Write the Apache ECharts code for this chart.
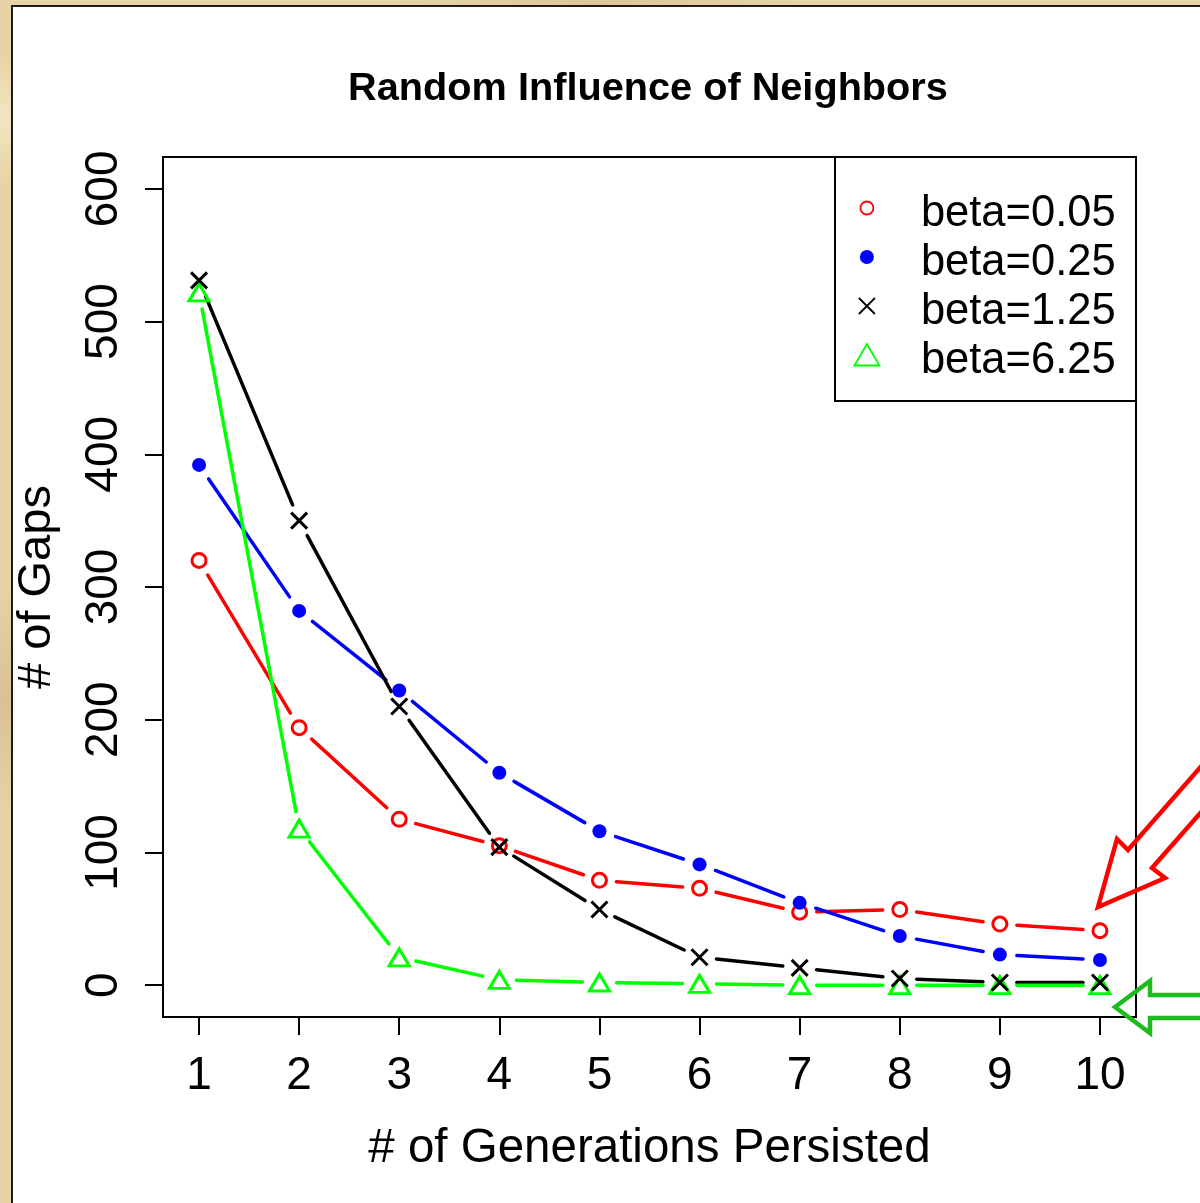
<!DOCTYPE html>
<html>
<head>
<meta charset="utf-8">
<title>Random Influence of Neighbors</title>
<script src="https://cdn.jsdelivr.net/npm/echarts@6/dist/echarts.min.js"></script>
<style>
  html, body { margin: 0; padding: 0; width: 1200px; height: 1203px; overflow: hidden; }
  body {
    background:
      radial-gradient(circle at 3px 120px, #f3e6c4 0, rgba(243,230,196,0) 60px),
      radial-gradient(circle at 600px 2px, #dcc698 0, rgba(220,198,152,0) 200px),
      radial-gradient(circle at 5px 700px, #d9c292 0, rgba(217,194,146,0) 120px),
      #e7d4a6;
    position: relative;
  }
  #panel {
    position: absolute; left: 11px; top: 5px; width: 1200px; height: 1210px;
    background: #ffffff; border-left: 2px solid #1c1c1c; border-top: 2px solid #1c1c1c;
  }
  #chart { position: absolute; left: 0; top: 0; width: 1200px; height: 1203px; }
</style>
</head>
<body>
<div id="panel"></div>
<div id="chart"></div>
<script>
// Number of gaps persisting for a given number of generations, per beta value
const generations = [1, 2, 3, 4, 5, 6, 7, 8, 9, 10];
const gapsBeta005 = [320, 194, 125, 105, 79, 73, 55, 57, 46, 41];
const gapsBeta025 = [392, 282, 222, 160, 116, 91, 62, 37, 23, 19];
const gapsBeta125 = [531, 350, 210, 104, 57, 21, 13, 5, 2, 2];
const gapsBeta625 = [522, 118, 21, 4, 2, 1, 0, 0, 0, 0];
const yTicks = [0, 100, 200, 300, 400, 500, 600];
const seriesNames = ['beta=0.05', 'beta=0.25', 'beta=1.25', 'beta=6.25'];

const FONT = '"Liberation Sans", Arial, Helvetica, sans-serif';
const RED = '#ff0000', BLUE = '#0000ff', BLACK = '#000000', GREEN = '#00ff00';

// Points joined by segments that stop short of each marker (like plot type "b")
function gappedSegments(name, values, color) {
  const data = values.slice(1).map((v, i) => [generations[i], values[i], generations[i + 1], v]);
  return {
    type: 'custom',
    name: name,
    data: data,
    encode: { x: [0, 2], y: [1, 3] },
    silent: true,
    z: 2,
    renderItem: function (params, api) {
      const p0 = api.coord([api.value(0), api.value(1)]);
      const p1 = api.coord([api.value(2), api.value(3)]);
      const dx = p1[0] - p0[0], dy = p1[1] - p0[1];
      const len = Math.sqrt(dx * dx + dy * dy);
      const gap = 17;
      if (len <= 2 * gap) return null;
      const ux = dx / len, uy = dy / len;
      return {
        type: 'line',
        shape: {
          x1: p0[0] + ux * gap, y1: p0[1] + uy * gap,
          x2: p1[0] - ux * gap, y2: p1[1] - uy * gap
        },
        style: { stroke: color, lineWidth: 3.5, lineCap: 'round' }
      };
    }
  };
}

function markers(name, values, symbol, size, itemStyle) {
  return {
    type: 'scatter',
    name: name,
    data: values.map((v, i) => [generations[i], v]),
    symbol: symbol,
    symbolSize: size,
    itemStyle: Object.assign({ opacity: 1 }, itemStyle),
    z: 3,
    emphasis: { disabled: true }
  };
}

const CROSS = 'path://M-1,-1L1,1M1,-1L-1,1';
const TRIANGLE = 'path://M0,-1L1,0.8L-1,0.8Z';

// Legend icons share a padded frame so they keep their own sizes and sit
// slightly above the middle of the text line
const LEGEND_ICONS = {
  circle: 'path://M-13,-13M13,25M-6.5,0A6.5,6.5,0,1,0,6.5,0A6.5,6.5,0,1,0,-6.5,0Z',
  dot: 'path://M-13,-13M13,25M-7,0A7,7,0,1,0,7,0A7,7,0,1,0,-7,0Z',
  cross: 'path://M-13,-13M13,25M-8,-8L8,8M8,-8L-8,8',
  triangle: 'path://M-13,-13M13,25M0,-11L12.5,10.5L-12.5,10.5Z'
};

const chart = echarts.init(document.getElementById('chart'), null, { renderer: 'canvas' });

chart.setOption({
  backgroundColor: 'transparent',
  animation: false,
  title: {
    text: 'Random Influence of Neighbors',
    left: 643,
    textAlign: 'center',
    top: 64,
    textStyle: { fontFamily: FONT, fontSize: 39.7, fontWeight: 'bold', color: '#000' }
  },
  grid: {
    left: 163, top: 157, width: 973, height: 860,
    show: true, borderColor: '#000', borderWidth: 2, backgroundColor: 'transparent'
  },
  xAxis: {
    type: 'value',
    min: 0.64, max: 10.36,
    axisLine: { show: false, onZero: false },
    splitLine: { show: false },
    axisTick: { show: true, customValues: generations, length: 18, lineStyle: { color: '#000', width: 2 } },
    axisLabel: { customValues: generations, margin: 36, fontFamily: FONT, fontSize: 46, color: '#000' },
    name: '# of Generations Persisted',
    nameLocation: 'middle',
    nameGap: 108,
    nameTextStyle: { fontFamily: FONT, fontSize: 47.5, color: '#000' }
  },
  yAxis: {
    type: 'value',
    min: -24, max: 624,
    axisLine: { show: false, onZero: false },
    splitLine: { show: false },
    axisTick: { show: true, customValues: yTicks, length: 18, lineStyle: { color: '#000', width: 2 } },
    axisLabel: { customValues: yTicks, rotate: 90, margin: 36, fontFamily: FONT, fontSize: 46, color: '#000' },
    name: '# of Gaps',
    nameLocation: 'middle',
    nameRotate: 90,
    nameGap: 102,
    nameTextStyle: { fontFamily: FONT, fontSize: 47, color: '#000' }
  },
  legend: {
    orient: 'vertical',
    left: 853, top: 192,
    padding: 0,
    itemWidth: 98, itemHeight: 38, itemGap: 5,
    selectedMode: false,
    textStyle: { fontFamily: FONT, fontSize: 43.5, lineHeight: 44, color: '#000' },
    z: 6,
    data: [
      { name: seriesNames[0], icon: LEGEND_ICONS.circle, symbolKeepAspect: true,
        itemStyle: { color: 'rgba(0,0,0,0)', borderColor: RED, borderWidth: 1.8, opacity: 1 } },
      { name: seriesNames[1], icon: LEGEND_ICONS.dot, symbolKeepAspect: true,
        itemStyle: { color: BLUE, borderColor: BLUE, borderWidth: 0, opacity: 1 } },
      { name: seriesNames[2], icon: LEGEND_ICONS.cross, symbolKeepAspect: true,
        itemStyle: { color: 'rgba(0,0,0,0)', borderColor: BLACK, borderWidth: 1.8, opacity: 1 } },
      { name: seriesNames[3], icon: LEGEND_ICONS.triangle, symbolKeepAspect: true,
        itemStyle: { color: 'rgba(0,0,0,0)', borderColor: GREEN, borderWidth: 1.8, opacity: 1 } }
    ]
  },
  graphic: [
    // legend frame
    { type: 'rect', z: 5, shape: { x: 835, y: 157, width: 301, height: 244 },
      style: { fill: '#fff', stroke: '#000', lineWidth: 2 } },
    // red pointer
    { type: 'polygon', z: 10,
      shape: { points: [[1098, 907], [1117, 839], [1128, 850], [1260, 699], [1260, 745], [1152, 868], [1165, 878]] },
      style: { fill: 'none', stroke: '#ff0000', lineWidth: 4.5, lineJoin: 'miter' } },
    // green pointer
    { type: 'polygon', z: 10,
      shape: { points: [[1115, 1007], [1150, 981], [1150, 995], [1260, 995], [1260, 1018], [1150, 1018], [1150, 1033]] },
      style: { fill: 'none', stroke: '#1dbb1d', lineWidth: 4.5, lineJoin: 'miter' } }
  ],
  series: [
    gappedSegments(seriesNames[0], gapsBeta005, RED),
    gappedSegments(seriesNames[1], gapsBeta025, BLUE),
    gappedSegments(seriesNames[2], gapsBeta125, BLACK),
    gappedSegments(seriesNames[3], gapsBeta625, GREEN),
    markers(seriesNames[0], gapsBeta005, 'circle', 14,
      { color: 'rgba(0,0,0,0)', borderColor: RED, borderWidth: 3 }),
    markers(seriesNames[1], gapsBeta025, 'circle', 14,
      { color: BLUE, borderWidth: 0 }),
    markers(seriesNames[3], gapsBeta625, TRIANGLE, [20, 17],
      { color: 'rgba(0,0,0,0)', borderColor: GREEN, borderWidth: 3 }),
    markers(seriesNames[2], gapsBeta125, CROSS, 16,
      { color: 'rgba(0,0,0,0)', borderColor: BLACK, borderWidth: 3 })
  ]
});
</script>
</body>
</html>
